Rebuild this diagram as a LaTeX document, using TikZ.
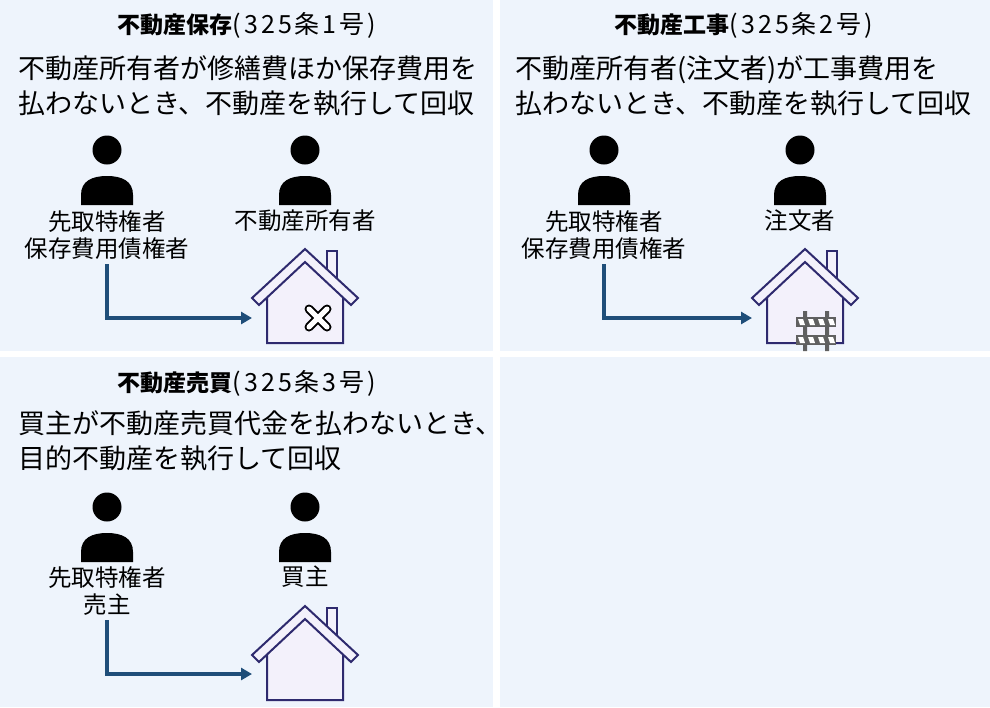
\documentclass[tikz,border=0pt]{standalone}
\usepackage{fontspec}
\setmainfont{Noto Sans CJK JP}
\usetikzlibrary{arrows.meta}
\definecolor{panel}{HTML}{EEF4FC}
\definecolor{hline}{HTML}{2E2A6E}
\definecolor{hfill}{HTML}{F3F1FB}
\definecolor{arr}{HTML}{1F4E79}
\newcommand{\ttlnum}[1]{{\fontsize{25}{28}\selectfont\addfontfeatures{LetterSpace=12}#1}}
\tikzset{
  pnl/.style={fill=panel,draw=none},
  ttl/.style={font=\fontsize{23}{28}\selectfont,anchor=center},
  body/.style={font=\fontsize{27}{35}\selectfont,anchor=north west,align=left,inner sep=0},
  lbl/.style={font=\fontsize{23.5}{27}\selectfont,align=center,inner sep=0},
  conn/.style={draw=arr,line width=3.2pt,-{Triangle[length=11pt,width=12pt]}},
  pics/person/.style={code={
    \fill (0,-13) circle (14.5);
    \fill (-26,42) -- (-26,32) .. controls (-26,18) and (-15,13) .. (0,13) .. controls (15,13) and (26,18) .. (26,32) -- (26,42) -- cycle;
  }},
  pics/house/.style={code={
    \begin{scope}[draw=hline,line width=2pt,fill=hfill]
    \filldraw (22,-92) rectangle (32,-55);
    \filldraw (-38,-48) -- (-38,0) -- (38,0) -- (38,-48) -- (0,-84) -- cycle;
    \filldraw (0,-94) -- (-53,-45) -- (-46,-38) -- (0,-81) -- (46,-38) -- (53,-45) -- cycle;
    \end{scope}
  }},
  pics/xmark/.style={code={
    \draw[line width=9pt,line cap=round] (-9,-9) -- (9,9) (-9,9) -- (9,-9);
    \draw[white,line width=5pt,line cap=round] (-9,-9) -- (9,9) (-9,9) -- (9,-9);
  }},
  pics/barricade/.style={code={
    \fill[gray!75!black] (-13,-22) rectangle (-9,18) (9,-22) rectangle (13,18);
    \foreach \yy in {-16,2}{
      \fill[gray!75!black] (-20,\yy) rectangle (20,\yy+10);
      \foreach \xx in {-15,-5,5,15}{\fill[white] (\xx-3,\yy+2) -- (\xx+2,\yy+2) -- (\xx+4,\yy+8) -- (\xx-1,\yy+8) -- cycle;}
    }
  }}
}
\begin{document}
\begin{tikzpicture}[x=1pt,y=-1pt]
\useasboundingbox (0,0) rectangle (990,707);
\fill[white] (0,0) rectangle (990,707);
\path[pnl] (0,0) rectangle (493,351);
\path[pnl] (500,0) rectangle (990,351);
\path[pnl] (0,357) rectangle (493,707);
\path[pnl] (500,357) rectangle (990,707);

% Panel 1
\node[ttl] (t1) at (247,25) {\textbf{不動産保存}\ttlnum{(325条1号)}};
\node[body] (b1) at (18,55) {不動産所有者が修繕費ほか保存費用を\\払わないとき、不動産を執行して回収};
\pic at (107,163) {person};
\pic at (305,163) {person};
\node[lbl] (a1) at (107,235) {先取特権者\\保存費用債権者};
\node[lbl] (o1) at (305,221) {不動産所有者};
\pic at (305,343) {house};
\pic at (318,318) {xmark};
\coordinate (s1) at (107,264);
\coordinate (e1) at (252,318);
\draw[conn] (s1) |- (e1);

% Panel 2
\node[ttl] (t2) at (744,25) {\textbf{不動産工事}\ttlnum{(325条2号)}};
\node[body] (b2) at (515,55) {不動産所有者(注文者)が工事費用を\\払わないとき、不動産を執行して回収};
\pic at (604,163) {person};
\pic at (800,163) {person};
\node[lbl] (a2) at (604,235) {先取特権者\\保存費用債権者};
\node[lbl] (o2) at (800,221) {注文者};
\pic at (805,343) {house};
\pic at (816,333) {barricade};
\coordinate (s2) at (604,264);
\coordinate (e2) at (752,318);
\draw[conn] (s2) |- (e2);

% Panel 3
\node[ttl] (t3) at (247,383) {\textbf{不動産売買}\ttlnum{(325条3号)}};
\node[body] (b3) at (18,410) {買主が不動産売買代金を払わないとき、\\目的不動産を執行して回収};
\pic at (107,520) {person};
\pic at (305,520) {person};
\node[lbl] (a3) at (107,591) {先取特権者\\売主};
\node[lbl] (o3) at (305,577) {買主};
\pic at (305,700) {house};
\coordinate (s3) at (107,620);
\coordinate (e3) at (252,674);
\draw[conn] (s3) |- (e3);
\end{tikzpicture}
\end{document}
